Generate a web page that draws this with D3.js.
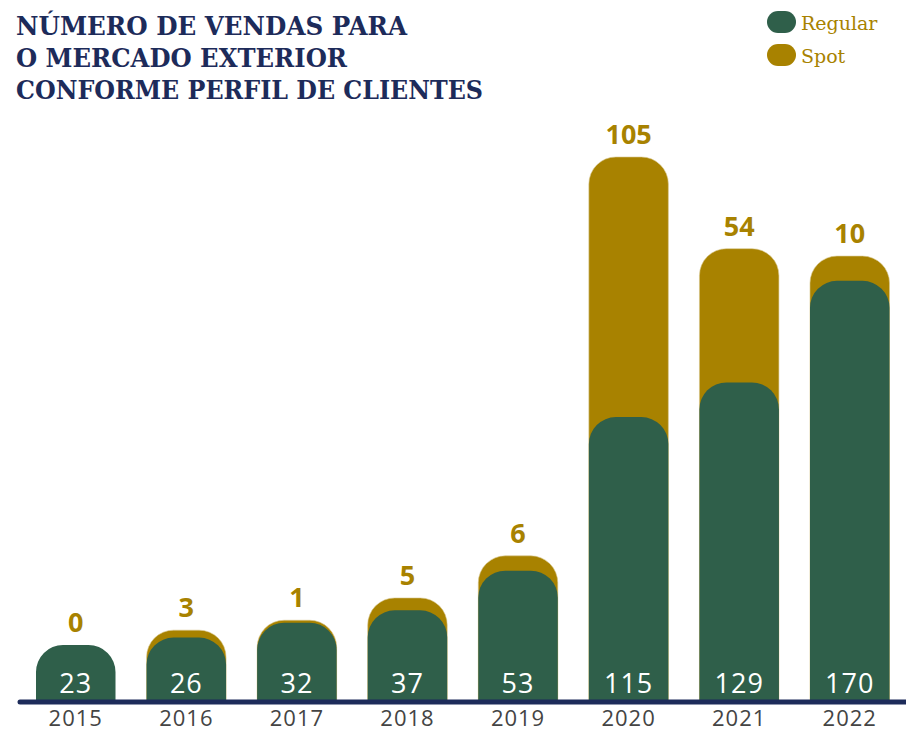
<!DOCTYPE html>
<html>
<head>
<meta charset="utf-8">
<script src="https://cdn.jsdelivr.net/npm/d3@7"></script>
<style>
  html, body { margin: 0; padding: 0; background: #fff; }
  svg { display: block; }
</style>
</head>
<body>
<div id="mainDiv"></div>
<script>
'use strict';

// data
var years   = ['2015', '2016', '2017', '2018', '2019', '2020', '2021', '2022'];
var regular = [23, 26, 32, 37, 53, 115, 129, 170];
var spot    = [0, 3, 1, 5, 6, 105, 54, 10];
var titleLines = ['NÚMERO DE VENDAS PARA', 'O MERCADO EXTERIOR', 'CONFORME PERFIL DE CLIENTES'];
var legendNames = ['Regular', 'Spot'];

var chart = {};
chart.width = 906;
chart.height = 733;
chart.baseY = 702;
chart.green = '#2f5f4a';
chart.gold = '#a88200';
chart.navy = '#1d2b5a';
chart.radius = 27;

chart.xScale = d3.scaleBand().domain(years).range([36, 889.5]).paddingInner(0.281).paddingOuter(0);
chart.yScale = d3.scaleLinear().domain([0, 220]).range([chart.baseY, chart.baseY - 545]);

// rect with rounded top corners only
chart.barPath = function(x, w, yTop, yBot, r) {
    var h = yBot - yTop;
    var rr = Math.min(r, h, w / 2);
    return 'M' + x + ',' + yBot +
        'L' + x + ',' + (yTop + rr) +
        'A' + rr + ',' + rr + ' 0 0 1 ' + (x + rr) + ',' + yTop +
        'L' + (x + w - rr) + ',' + yTop +
        'A' + rr + ',' + rr + ' 0 0 1 ' + (x + w) + ',' + (yTop + rr) +
        'L' + (x + w) + ',' + yBot + 'Z';
};

chart.start = function() {
    var svg = d3.select('#mainDiv').append('svg')
        .attr('width', chart.width)
        .attr('height', chart.height);

    var data = years.map(function(y, i) {
        return {year: y, reg: regular[i], spot: spot[i]};
    });

    var bw = chart.xScale.bandwidth();

    // spot (total) bars behind
    svg.append('g').selectAll('path')
        .data(data).enter().append('path')
        .attr('d', function(d) {
            return chart.barPath(chart.xScale(d.year), bw, chart.yScale(d.reg + d.spot), chart.baseY, chart.radius);
        })
        .attr('fill', chart.gold)
        .attr('stroke', '#d8c88f')
        .attr('stroke-width', 0.6)
        .attr('opacity', function(d) { return d.spot > 0 ? 1 : 0; });

    // regular bars in front
    svg.append('g').selectAll('path')
        .data(data).enter().append('path')
        .attr('d', function(d) {
            return chart.barPath(chart.xScale(d.year), bw, chart.yScale(d.reg), chart.baseY, chart.radius);
        })
        .attr('fill', chart.green);

    // spot labels
    svg.append('g').selectAll('text')
        .data(data).enter().append('text')
        .attr('x', function(d) { return chart.xScale(d.year) + bw / 2; })
        .attr('y', function(d) { return chart.yScale(d.reg + d.spot) - 13; })
        .attr('text-anchor', 'middle')
        .attr('font-family', 'Open Sans, sans-serif')
        .attr('font-weight', 700)
        .attr('font-size', 27)
        .attr('fill', chart.gold)
        .text(function(d) { return d.spot; });

    // regular labels
    svg.append('g').selectAll('text')
        .data(data).enter().append('text')
        .attr('x', function(d) { return chart.xScale(d.year) + bw / 2; })
        .attr('y', chart.baseY - 9)
        .attr('text-anchor', 'middle')
        .attr('font-family', 'Open Sans, sans-serif')
        .attr('font-size', 27)
        .attr('letter-spacing', 1)
        .attr('fill', '#fff')
        .text(function(d) { return d.reg; });

    // baseline
    svg.append('line')
        .attr('x1', 20).attr('x2', 906)
        .attr('y1', chart.baseY).attr('y2', chart.baseY)
        .attr('stroke', chart.navy)
        .attr('stroke-width', 5)
        .attr('stroke-linecap', 'round');

    // year axis
    var axis = svg.append('g')
        .attr('transform', 'translate(0,' + chart.baseY + ')')
        .call(d3.axisBottom(chart.xScale).tickSize(0).tickPadding(0));
    axis.select('.domain').remove();
    axis.selectAll('text')
        .attr('dy', 0)
        .attr('y', 24)
        .attr('font-family', 'Open Sans, sans-serif')
        .attr('font-size', 22)
        .attr('letter-spacing', 1)
        .attr('fill', '#444');

    // title
    svg.append('g').selectAll('text')
        .data(titleLines).enter().append('text')
        .attr('x', 16)
        .attr('y', function(d, i) { return 35 + i * 32; })
        .attr('font-family', 'DejaVu Serif, serif')
        .attr('font-weight', 700)
        .attr('font-size', 26)
        .attr('fill', chart.navy)
        .text(function(d) { return d; })
        .each(function(d, i) {
            var target = [391, 331, 467][i];
            d3.select(this).attr('textLength', target).attr('lengthAdjust', 'spacingAndGlyphs');
        });

    // legend
    var leg = svg.append('g').selectAll('g')
        .data(legendNames).enter().append('g')
        .attr('transform', function(d, i) { return 'translate(767,' + (11 + i * 33) + ')'; });
    leg.append('rect')
        .attr('width', 29).attr('height', 22)
        .attr('rx', 11).attr('ry', 11)
        .attr('fill', function(d, i) { return i === 0 ? chart.green : chart.gold; });
    leg.append('text')
        .attr('x', 34).attr('y', 19)
        .attr('font-family', 'DejaVu Serif, serif')
        .attr('font-size', 19)
        .attr('fill', chart.gold)
        .text(function(d) { return d; });
};

window.onload = chart.start;
</script>
</body>
</html>
